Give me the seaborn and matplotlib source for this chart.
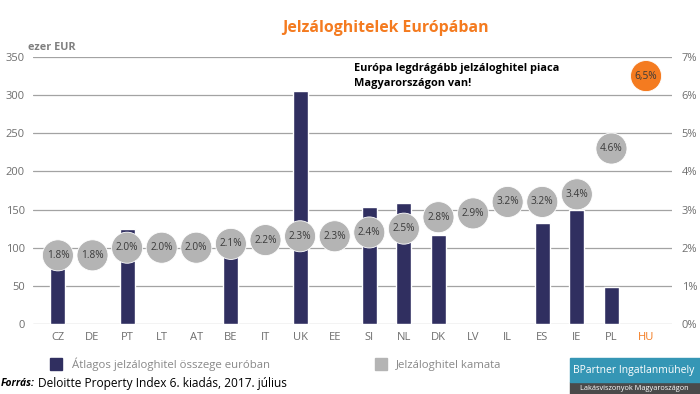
import numpy as np
import pandas as pd
import matplotlib
matplotlib.use('Agg')
import matplotlib.pyplot as plt
from matplotlib.lines import Line2D
from matplotlib.patches import Rectangle
import seaborn as sns

# Adatok (Deloitte Property Index, 2017)
countries = ['CZ', 'DE', 'PT', 'LT', 'AT', 'BE', 'IT', 'UK', 'EE',
             'SI', 'NL', 'DK', 'LV', 'IL', 'ES', 'IE', 'PL', 'HU']
# atlagos jelzaloghitel, ezer EUR (None = nincs adat)
avg_loan = [80, None, 125, None, None, 100, None, 306, None,
            153, 158, 117, None, None, 132, 150, 48, None]
# jelzaloghitel kamata, %
rates = [1.8, 1.8, 2.0, 2.0, 2.0, 2.1, 2.2, 2.3, 2.3,
         2.4, 2.5, 2.8, 2.9, 3.2, 3.2, 3.4, 4.6, 6.5]
left_ticks = [0, 50, 100, 150, 200, 250, 300, 350]
right_ticks = [0, 1, 2, 3, 4, 5, 6, 7]

NAVY = '#302F60'
GREY_DOT = '#B4B4B4'
ORANGE = '#F47B20'
TICK_GREY = '#6E6E6E'

sns.set_style('white')
plt.rcParams['font.family'] = ['Open Sans', 'DejaVu Sans']

bars = pd.DataFrame({'orszag': countries, 'hitel': avg_loan}).dropna()
dots = pd.DataFrame({'pos': np.arange(len(countries)), 'kamat': rates,
                     'kiemelt': ['HU' if c == 'HU' else 'egyeb' for c in countries]})

fig = plt.figure(figsize=(7, 3.94), dpi=100)
ax = fig.add_axes([33 / 700, 1 - 324 / 394, 639 / 700, 267 / 394])

sns.barplot(data=bars, x='orszag', y='hitel', order=countries, color=NAVY,
            saturation=1, width=0.43, errorbar=None, ax=ax, zorder=2)

ax2 = ax.twinx()
sns.scatterplot(data=dots, x='pos', y='kamat', hue='kiemelt',
                palette={'egyeb': GREY_DOT, 'HU': ORANGE}, s=500,
                edgecolor='white', linewidth=0.6, legend=False, ax=ax2, zorder=3)

for i, (c, r) in enumerate(zip(countries, rates)):
    lbl = f'{r:.1f}%'
    if c == 'HU':
        lbl = lbl.replace('.', ',')
    ax2.text(i, r, lbl, ha='center', va='center', fontsize=7.3,
             color='#3A3A3A', zorder=4)

ax.set_ylim(0, 350)
ax2.set_ylim(0, 7)
ax.set_xlim(-0.72, 17.75)

ax.set_yticks(left_ticks)
ax2.set_yticks(right_ticks)
ax2.set_yticklabels([f'{t}%' for t in right_ticks])
ax.set_xticks(range(len(countries)))
ax.set_xticklabels(countries)

ax.yaxis.grid(True, color='#A3A3A3', linewidth=0.9)
ax.set_axisbelow(True)
ax.tick_params(axis='both', length=0, labelsize=8, colors=TICK_GREY, pad=6)
ax2.tick_params(axis='y', length=0, labelsize=8, colors=TICK_GREY, pad=7)
for lab in ax.get_xticklabels():
    lab.set_color(ORANGE if lab.get_text() == 'HU' else TICK_GREY)
ax.set_xlabel('')
ax.set_ylabel('')
ax2.set_ylabel('')
for a in (ax, ax2):
    for s in a.spines.values():
        s.set_visible(False)

# feliratok
fig.text(385 / 700, 1 - 28 / 394, 'Jelzáloghitelek Európában', ha='center',
         va='center', fontsize=11.4, fontweight='bold', color=ORANGE)
fig.text(28 / 700, 1 - 47 / 394, 'ezer EUR', ha='left', va='center',
         fontsize=7.8, fontweight='bold', color='#7F7F7F')
fig.text(354 / 700, 1 - 76 / 394,
         'Európa legdrágább jelzáloghitel piaca\nMagyarországon van!',
         ha='left', va='center', fontsize=7.9, fontweight='bold',
         color='black', linespacing=1.45)

# jelmagyarazat
handles = [Line2D([], [], marker='s', ls='', color=NAVY, markersize=8.5),
           Line2D([], [], marker='s', ls='', color=GREY_DOT, markersize=8.5)]
fig.legend(handles, ['Átlagos jelzáloghitel összege euróban', 'Jelzáloghitel kamata'],
           loc='center left', bbox_to_anchor=(50 / 700, 1 - 364 / 394), ncol=2,
           frameon=False, fontsize=8.2, labelcolor='#888888', handlelength=1.1,
           handletextpad=0.8, columnspacing=9.2, borderpad=0, borderaxespad=0)

# forras
forras = fig.text(1 / 700, 1 - 383 / 394, 'Forrás:', ha='left', va='center',
                  fontsize=7.4, fontweight='bold', fontstyle='italic', color='black')
ax.annotate('Deloitte Property Index 6. kiadás, 2017. július', xy=(1, 0.5),
            xycoords=forras, xytext=(2.5, 0), textcoords='offset points',
            ha='left', va='center', fontsize=8.6, color='black',
            annotation_clip=False)

# logo
fig.patches.append(Rectangle((570 / 700, 0), 130 / 700, 12 / 394,
                             transform=fig.transFigure, color='#4A4A4A'))
fig.patches.append(Rectangle((570 / 700, 12 / 394), 130 / 700, 24 / 394,
                             transform=fig.transFigure, color='#3596B5'))
fig.text(634 / 700, 1 - 370 / 394, 'BPartner Ingatlanmühely', ha='center',
         va='center', fontsize=7.5, color='white')
fig.text(634 / 700, 1 - 388 / 394, 'Lakásviszonyok Magyaroszágon', ha='center',
         va='center', fontsize=5.3, color='white')

fig.savefig('out.png', dpi=100)
